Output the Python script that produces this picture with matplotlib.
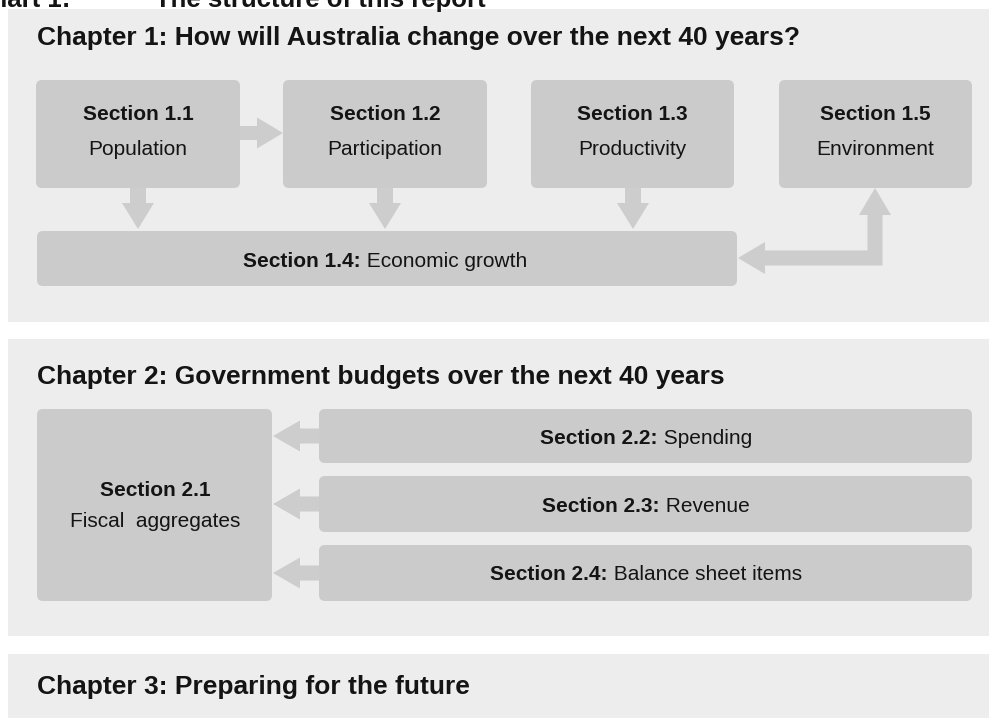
import matplotlib
matplotlib.use("Agg")
import matplotlib.pyplot as plt
from matplotlib.patches import FancyBboxPatch, Polygon, Rectangle

plt.rcParams['font.family'] = ['Liberation Sans', 'DejaVu Sans']

# ---- content ----
chart_label = "Chart 1:"
chart_title = "The structure of this report"
chapter_titles = [
    "Chapter 1: How will Australia change over the next 40 years?",
    "Chapter 2: Government budgets over the next 40 years",
    "Chapter 3: Preparing for the future",
]
ch1_sections = ["Section 1.1", "Section 1.2", "Section 1.3", "Section 1.5"]
ch1_names = ["Population", "Participation", "Productivity", "Environment"]
growth_label = ("Section 1.4:", " Economic growth")
fiscal_label = ("Section 2.1", "Fiscal  aggregates")
ch2_sections = ["Section 2.2:", "Section 2.3:", "Section 2.4:"]
ch2_names = [" Spending", " Revenue", " Balance sheet items"]

# ---- style ----
PANEL = "#ededed"
BOX = "#cbcbcb"
ARROW = "#cdcdcd"
TXT = "#141414"
FS_TITLE = 19
FS_BOX = 15

W, H = 990, 718
fig = plt.figure(figsize=(W / 100, H / 100), dpi=100)
fig.patch.set_facecolor("white")
ax = fig.add_axes([0, 0, 1, 1])
ax.set_xlim(0, W)
ax.set_ylim(H, 0)
ax.axis("off")


def panel(x0, y0, x1, y1):
    ax.add_patch(Rectangle((x0, y0), x1 - x0, y1 - y0, fc=PANEL, ec="none", zorder=0))


def box(x0, y0, x1, y1):
    ax.add_patch(FancyBboxPatch((x0, y0), x1 - x0, y1 - y0,
                                boxstyle="round,pad=0,rounding_size=6",
                                fc=BOX, ec="none", zorder=1))


def arrow(x0, y0, x1, y1, sw=15, hw=32, hl=26):
    # straight arrow from (x0,y0) to tip (x1,y1)
    dx, dy = x1 - x0, y1 - y0
    L = (dx ** 2 + dy ** 2) ** 0.5
    ux, uy = dx / L, dy / L
    px, py = -uy, ux
    bx, by = x1 - ux * hl, y1 - uy * hl
    pts = [
        (x0 + px * sw / 2, y0 + py * sw / 2),
        (bx + px * sw / 2, by + py * sw / 2),
        (bx + px * hw / 2, by + py * hw / 2),
        (x1, y1),
        (bx - px * hw / 2, by - py * hw / 2),
        (bx - px * sw / 2, by - py * sw / 2),
        (x0 - px * sw / 2, y0 - py * sw / 2),
    ]
    ax.add_patch(Polygon(pts, closed=True, fc=ARROW, ec="none", zorder=2))


def mixed(cx, y, bold, regular, fs=FS_BOX):
    r = fig.canvas.get_renderer()
    t1 = ax.text(0, y, bold, fontsize=fs, fontweight="bold", color=TXT, va="baseline", ha="left")
    t2 = ax.text(0, y, regular, fontsize=fs, color=TXT, va="baseline", ha="left")
    w1 = t1.get_window_extent(r).width
    w2 = t2.get_window_extent(r).width
    x0 = cx - (w1 + w2) / 2
    t1.set_x(x0)
    t2.set_x(x0 + w1)


# top chart title (cut by the top edge, as in the source page crop)
ax.text(70, 7, chart_label, fontsize=18.5, fontweight="bold", color=TXT,
        ha="right", va="baseline", clip_on=False)
ax.text(155, 7, chart_title, fontsize=18.5, fontweight="bold", color=TXT,
        ha="left", va="baseline", clip_on=False)

# panels
panel(8, 9, 989, 322)
panel(8, 339, 989, 636)
panel(8, 654, 989, 730)

# chapter titles
for title, yb in zip(chapter_titles, [45, 384, 694]):
    ax.text(37, yb, title, fontsize=FS_TITLE, fontweight="bold", color=TXT,
            ha="left", va="baseline")

# ---- chapter 1 ----
ch1_x = [(36, 240), (283, 487), (531, 734), (779, 972)]
for (x0, x1), sec, name in zip(ch1_x, ch1_sections, ch1_names):
    box(x0, 80, x1, 188)
    cx = (x0 + x1) / 2
    ax.text(cx, 120, sec, fontsize=FS_BOX, fontweight="bold", color=TXT, ha="center", va="baseline", zorder=3)
    ax.text(cx, 155, name, fontsize=FS_BOX, color=TXT, ha="center", va="baseline", zorder=3)

box(37, 231, 737, 286)
mixed(385, 267, *growth_label)

arrow(240, 133, 283, 133, sw=14, hw=31, hl=26)
for cx in [138, 385, 633]:
    arrow(cx, 188, cx, 229, sw=16, hw=32, hl=26)

# elbow arrow between 1.4 and 1.5
sw, hw, hl = 15, 32, 27
vx, hy = 875, 258
tipx = 738
uty = 188
elbow = [
    (tipx, hy),
    (tipx + hl, hy - hw / 2),
    (tipx + hl, hy - sw / 2),
    (vx - sw / 2, hy - sw / 2),
    (vx - sw / 2, uty + hl),
    (vx - hw / 2, uty + hl),
    (vx, uty),
    (vx + hw / 2, uty + hl),
    (vx + sw / 2, uty + hl),
    (vx + sw / 2, hy + sw / 2),
    (tipx + hl, hy + sw / 2),
    (tipx + hl, hy + hw / 2),
]
ax.add_patch(Polygon(elbow, closed=True, fc=ARROW, ec="none", zorder=2))

# ---- chapter 2 ----
box(37, 409, 272, 601)
ax.text(155, 496, fiscal_label[0], fontsize=FS_BOX, fontweight="bold", color=TXT, ha="center", va="baseline", zorder=3)
ax.text(155, 527, fiscal_label[1], fontsize=FS_BOX, color=TXT, ha="center", va="baseline", zorder=3)

rows = [(409, 463), (476, 532), (545, 601)]
for (y0, y1), sec, name in zip(rows, ch2_sections, ch2_names):
    box(319, y0, 972, y1)
    cy = (y0 + y1) / 2
    mixed(646, cy + 7.5, sec, name)
    arrow(319, cy, 273, cy, sw=15, hw=31, hl=27)

fig.savefig("out.png", dpi=100, facecolor="white")
